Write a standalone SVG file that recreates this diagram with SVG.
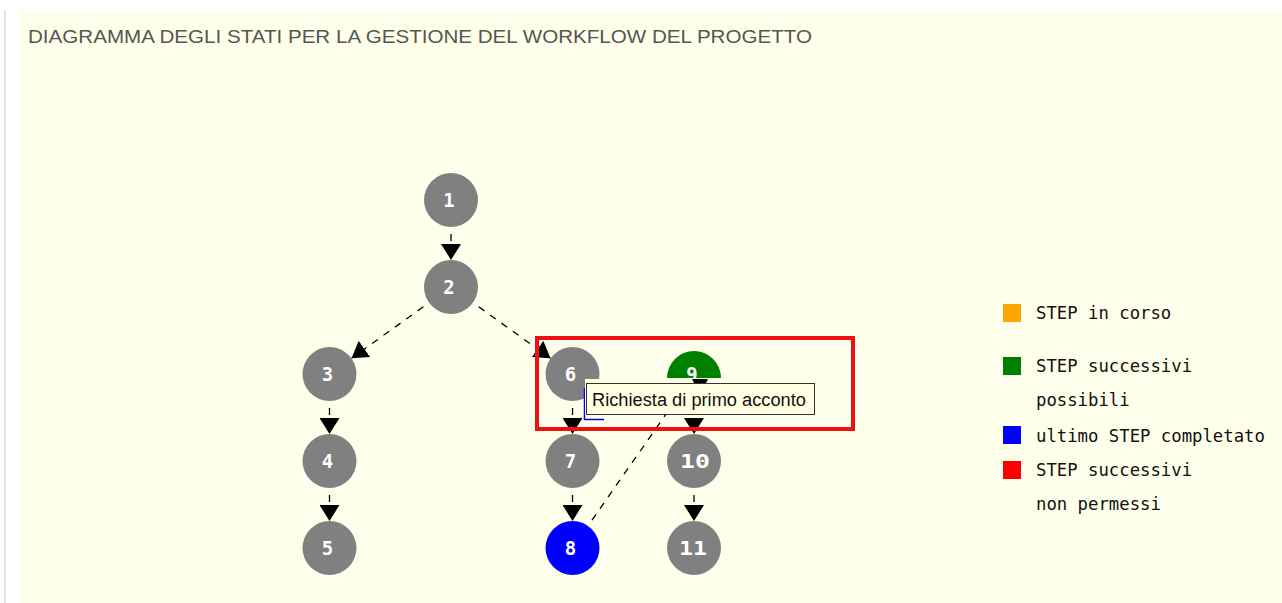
<svg xmlns="http://www.w3.org/2000/svg" width="1282" height="603" viewBox="0 0 1282 603">
  <style>
    .title { font-family: "Liberation Sans", Arial, sans-serif; font-size: 18px; fill: #555555; }
    .node circle, .node path { fill: #808080; }
    .num { font-family: "DejaVu Sans Mono", "Liberation Mono", monospace; font-weight: bold; font-size: 19px; fill: #ffffff; text-anchor: middle; }
    .edge { stroke: #000; stroke-width: 1.3; stroke-dasharray: 7 7; stroke-dashoffset: 7; fill: none; marker-end: url(#arr); }
    .legend text { font-family: "DejaVu Sans Mono", "Liberation Mono", monospace; font-size: 17.3px; fill: #111; }
    .tip text { font-family: "Liberation Sans", Arial, sans-serif; font-size: 18px; fill: #111; }
  </style>
  <defs>
    <marker id="arr" viewBox="0 0 16 20" refX="16" refY="10" markerWidth="16" markerHeight="20" markerUnits="userSpaceOnUse" orient="auto">
      <path d="M0,0 L16,10 L0,20 z" fill="#000"/>
    </marker>
  </defs>

  <!-- page background -->
  <rect x="0" y="0" width="1282" height="603" fill="#ffffff"/>
  <rect x="4" y="10" width="2" height="593" fill="#e4e4e4"/>
  <rect x="20" y="10" width="1262" height="593" fill="#feffea"/>

  <text class="title" x="28" y="43" textLength="784" lengthAdjust="spacingAndGlyphs">DIAGRAMMA DEGLI STATI PER LA GESTIONE DEL WORKFLOW DEL PROGETTO</text>

  <!-- transitions -->
  <g id="connectors">
    <line class="edge" x1="451" y1="227" x2="451" y2="260"/>
    <line class="edge" x1="429" y1="302.7" x2="351.5" y2="358.3"/>
    <line class="edge" x1="473" y1="302.7" x2="550.5" y2="358.3"/>
    <line class="edge" x1="329.5" y1="401" x2="329.5" y2="434"/>
    <line class="edge" x1="329.5" y1="488" x2="329.5" y2="521"/>
    <line class="edge" x1="572.5" y1="401" x2="572.5" y2="434"/>
    <line class="edge" x1="572.5" y1="488" x2="572.5" y2="521"/>
    <line class="edge" x1="588" y1="525.9" x2="678.5" y2="396.1"/>
    <line class="edge" x1="694" y1="401" x2="694" y2="434"/>
    <line class="edge" x1="694" y1="488" x2="694" y2="521"/>
  </g>

  <!-- states -->
  <g id="node1" class="node"><circle cx="451" cy="200" r="27"/><text class="num" x="449" y="207">1</text></g>
  <g id="node2" class="node"><circle cx="451" cy="287" r="27"/><text class="num" x="449" y="294">2</text></g>
  <g id="node3" class="node"><circle cx="329.5" cy="374" r="27"/><text class="num" x="327.5" y="381">3</text></g>
  <g id="node4" class="node"><circle cx="329.5" cy="461" r="27"/><text class="num" x="327.5" y="468">4</text></g>
  <g id="node5" class="node"><circle cx="329.5" cy="548" r="27"/><text class="num" x="327.5" y="555">5</text></g>
  <g id="node6" class="node"><circle cx="572.5" cy="374" r="27"/><text class="num" x="570.5" y="381">6</text></g>
  <g id="node7" class="node"><circle cx="572.5" cy="461" r="27"/><text class="num" x="570.5" y="468">7</text></g>
  <g id="node8" class="node"><circle cx="572.5" cy="548" r="27" style="fill:#0000ff"/><text class="num" x="570.5" y="555">8</text></g>
  <g id="node9" class="node"><path d="M667,378 A27,27 0 0 1 721,378 Z" style="fill:#008000"/><text class="num" x="692" y="381">9</text></g>
  <g id="node10" class="node"><circle cx="694" cy="461" r="27"/><text class="num" x="695" y="468" textLength="30" lengthAdjust="spacingAndGlyphs">10</text></g>
  <g id="node11" class="node"><circle cx="694" cy="548" r="27"/><text class="num" x="693" y="555" textLength="28" lengthAdjust="spacingAndGlyphs">11</text></g>

  <!-- colour key -->
  <g id="legend" class="legend">
    <rect x="1003" y="304" width="18" height="18" fill="#ffa500"/>
    <text x="1036" y="319">STEP in corso</text>
    <rect x="1003" y="357" width="18" height="18" fill="#008000"/>
    <text x="1036" y="372">STEP successivi</text>
    <text x="1036" y="406">possibili</text>
    <rect x="1003" y="426" width="18" height="18" fill="#0000ff"/>
    <text x="1036" y="442">ultimo STEP completato</text>
    <rect x="1003" y="461" width="18" height="18" fill="#ff0000"/>
    <text x="1036" y="476">STEP successivi</text>
    <text x="1036" y="510">non permessi</text>
  </g>

  <!-- hover label over state 6 -->
  <g id="tooltip" class="tip">
    <polyline points="584.5,388 584.5,419.5 604,419.5" fill="none" stroke="#0000ff" stroke-width="1.5"/>
    <rect x="585" y="379" width="230" height="36" fill="#ffffe1"/>
    <rect x="586.5" y="383.5" width="228" height="31" fill="#ffffe1" stroke="#333" stroke-width="1"/>
    <polygon points="692,379 708,379 706,383 694,383" fill="#000"/>
    <text x="592" y="406" textLength="214" lengthAdjust="spacingAndGlyphs">Richiesta di primo acconto</text>
  </g>

  <!-- highlight frame -->
  <rect id="highlight" x="537" y="338" width="316" height="91" fill="none" stroke="#ee1111" stroke-width="4"/>
</svg>
